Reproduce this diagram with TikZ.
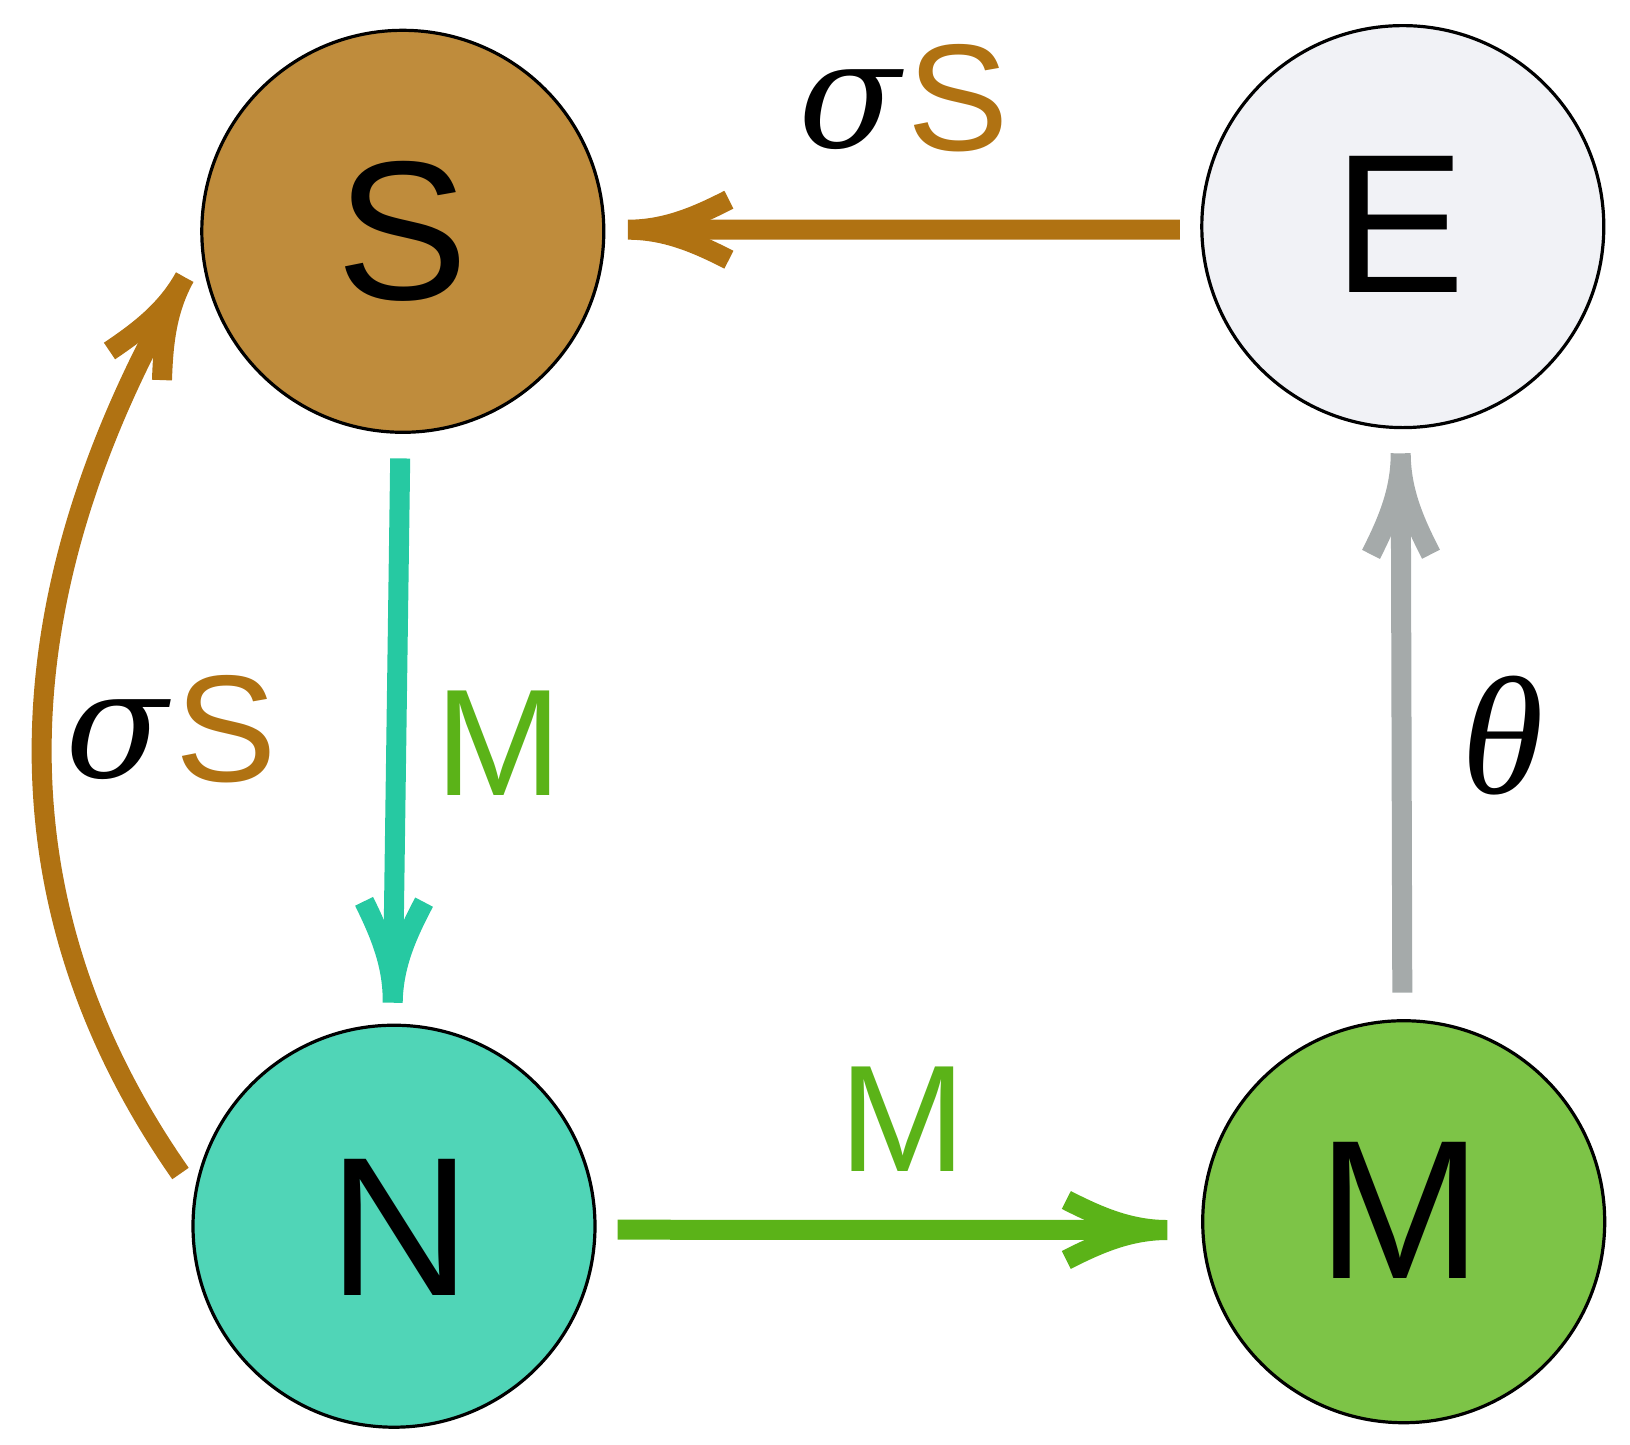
\documentclass[tikz,border=0pt]{standalone}
\usepackage{fontspec}
\setmainfont{Liberation Sans}
\newfontfamily\grkfont{Liberation Serif}
\newfontfamily\sigfont{DejaVu Serif}
\usetikzlibrary{calc}

\definecolor{sfill}{HTML}{BF8C3C}
\definecolor{efill}{HTML}{F1F2F6}
\definecolor{nfill}{HTML}{50D5B7}
\definecolor{mfill}{HTML}{7DC447}
\definecolor{brn}{HTML}{B07212}
\definecolor{tealc}{HTML}{26C9A2}
\definecolor{grn}{HTML}{5BB318}
\definecolor{gry}{HTML}{A5AAAA}

% open fork-shaped tip: two curved barbs stroked with the line's own width
\pgfdeclarearrow{
  name = Fork,
  parameters = {\the\pgflinewidth},
  setup code = {
    \pgfarrowssettipend{0pt}
    \pgfarrowssetlineend{-30pt}
    \pgfarrowssetbackend{-101pt}
    \pgfarrowssetvisualbackend{-40pt}
    \pgfarrowsupperhullpoint{-101pt}{42pt}
    \pgfarrowsupperhullpoint{0pt}{10pt}
  },
  drawing code = {
    \pgfsetbuttcap
    \pgfpathmoveto{\pgfpointorigin}
    \pgfpathcurveto{\pgfpoint{-38pt}{0pt}}{\pgfpoint{-69pt}{13.7pt}}{\pgfpoint{-101pt}{30pt}}
    \pgfpathmoveto{\pgfpointorigin}
    \pgfpathcurveto{\pgfpoint{-38pt}{0pt}}{\pgfpoint{-69pt}{-13.7pt}}{\pgfpoint{-101pt}{-30pt}}
    \pgfusepathqstroke
  }
}

\tikzset{
  state/.style={circle, draw=black, line width=3.2pt, minimum size=402pt, inner sep=0pt},
  bigletter/.style={inner sep=0pt, font=\fontsize{198}{198}\selectfont},
  rate/.style={inner sep=0pt, font=\fontsize{152}{152}\selectfont},
  greek/.style={inner sep=0pt, font=\fontsize{168}{168}\selectfont\grkfont\itshape},
  sigma/.style={inner sep=0pt, font=\fontsize{150}{150}\selectfont\sigfont\itshape},
  conn/.style={line width=20pt, line cap=butt, -Fork},
}

\begin{document}
\begin{tikzpicture}[x=1pt, y=-1pt]
  \useasboundingbox (0,0) rectangle (1630,1444);

  % compartments
  \node[state, fill=sfill] (S) at (402.8,231.3) {};
  \node[state, fill=efill] (E) at (1402.8,226.6) {};
  \node[state, fill=nfill] (N) at (394,1226.2) {};
  \node[state, fill=mfill] (M) at (1403.7,1221.7) {};

  \node[bigletter] (Stxt) at (S) {S};
  \node[bigletter] (Etxt) at ($(E)+(-3.5,-2.6)$) {E};
  \node[bigletter] (Ntxt) at ($(N)+(6,1)$) {N};
  \node[bigletter] (Mtxt) at ($(M)+(-4,-11)$) {M};

  % flows
  \draw[conn, brn] ($(E)+(-223,3.1)$) -- ($(S)+(225.1,-1.6)$);
  \draw[conn, tealc] ($(S)+(-2.6,227.1)$) -- ($(N)+(-1.3,-223.5)$);
  \draw[conn, grn] ($(N)+(223.5,3.5)$) -- ($(M)+(-236.4,8.3)$);
  \draw[conn, gry] ($(M)+(-1.4,-229)$) -- ($(E)+(-2.1,226.7)$);
  \draw[conn, brn] ($(N)+(-213.5,-52.7)$)
    .. controls +(-184.2,-263.5) and +(-186.8,337) .. ($(S)+(-218.1,45.9)$);

  % rate labels
  \node[sigma] (sigTop) at (849.4,109.6) {σ};
  \node[rate, text=brn] (sTop) at (958.4,98.3) {S};
  \node[sigma] (sigLeft) at (116.6,740.1) {σ};
  \node[rate, text=brn] (sLeft) at (226.1,728.7) {S};
  \node[rate, anchor=base, text=grn] (lblSN) at (498.5,795.2) {M};
  \node[rate, anchor=base, text=grn] (lblNM) at (902.3,1171.5) {M};
  \node[greek] (lblME) at (1503,735.5) {θ};
\end{tikzpicture}
\end{document}
